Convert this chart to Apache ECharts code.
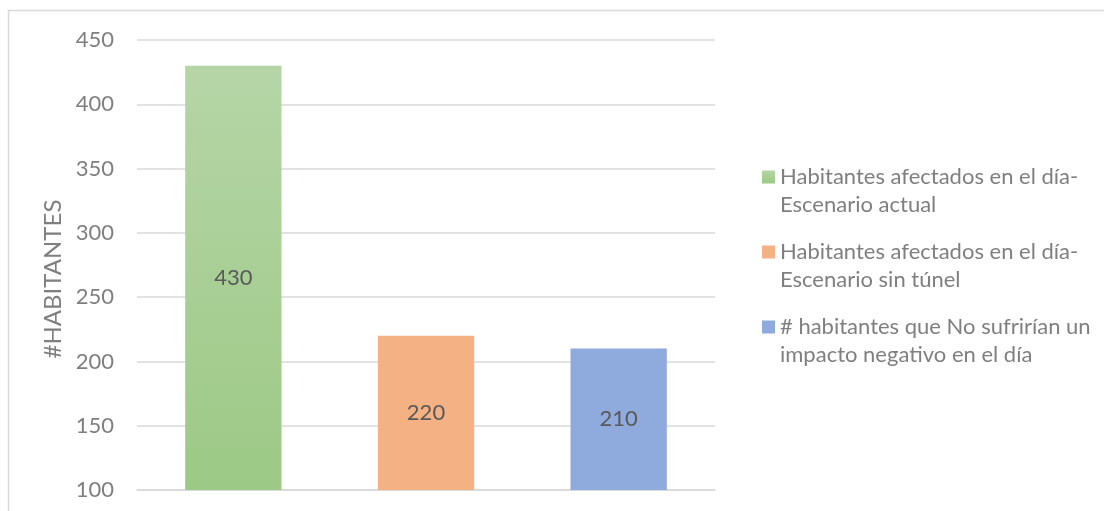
<!DOCTYPE html>
<html>
<head>
<meta charset="utf-8">
<script src="https://cdn.jsdelivr.net/npm/echarts@6/dist/echarts.min.js"></script>
<style>
  html, body { margin: 0; padding: 0; background: #fff; }
  #chart { width: 1104px; height: 511px; }
</style>
</head>
<body>
<div id="chart"></div>
<script>
// Daily affected inhabitants per scenario
const categories = ['Escenario actual', 'Escenario sin túnel', 'Sin impacto'];
const seriesNames = [
  'Habitantes afectados en el día-\nEscenario actual',
  'Habitantes afectados en el día-\nEscenario sin túnel',
  '# habitantes que No sufrirían un\nimpacto negativo en el día'
];
const values = [430, 220, 210];
const yTicks = { min: 100, max: 450, interval: 50 };
const axisTitle = '#HABITANTES';

const FONT = 'Lato, "Open Sans", "Noto Sans", sans-serif';
const TEXT_GREY = '#7f7f7f';
const colors = [
  new echarts.graphic.LinearGradient(0, 0, 0, 1, [
    { offset: 0, color: '#b5d5a6' },
    { offset: 1, color: '#9cc985' }
  ]),
  '#f4b183',
  '#8faadc'
];
const legendColors = ['#a9d18e', '#f4b183', '#8faadc'];

const series = seriesNames.map((name, i) => ({
  name: name,
  type: 'bar',
  stack: 'all',
  barWidth: '50%',
  color: legendColors[i],
  itemStyle: { color: colors[i] },
  label: {
    show: true,
    position: 'inside',
    color: '#595959',
    fontSize: 22,
    fontFamily: FONT
  },
  data: categories.map((c, j) => (j === i ? values[i] : null))
}));

const chart = echarts.init(document.getElementById('chart'), null, { renderer: 'canvas' });
chart.setOption({
  animation: false,
  backgroundColor: '#fff',
  grid: { left: 137, right: 389, top: 40, bottom: 21 },
  xAxis: {
    type: 'category',
    data: categories,
    axisLine: { show: true, lineStyle: { color: '#d9d9d9', width: 1.5 } },
    axisTick: { show: false },
    axisLabel: { show: false }
  },
  yAxis: {
    type: 'value',
    min: yTicks.min,
    max: yTicks.max,
    interval: yTicks.interval,
    name: axisTitle,
    nameLocation: 'middle',
    nameGap: 57,
    nameTextStyle: {
      color: TEXT_GREY,
      fontSize: 24,
      fontFamily: FONT,
      padding: [0, 28, 0, 0]
    },
    axisLine: { show: false },
    axisTick: { show: false },
    axisLabel: { color: TEXT_GREY, fontSize: 22, fontFamily: FONT, margin: 23 },
    splitLine: { lineStyle: { color: '#d9d9d9', width: 1.5 } }
  },
  legend: {
    orient: 'vertical',
    left: 757,
    top: 130,
    itemWidth: 13,
    itemHeight: 13,
    itemGap: -9,
    icon: 'rect',
    data: seriesNames,
    // leading blank line keeps the marker level with the first text line
    formatter: name => '\n' + name,
    textStyle: {
      color: TEXT_GREY,
      fontSize: 22,
      fontFamily: FONT,
      lineHeight: 28
    }
  },
  graphic: [{
    type: 'rect',
    shape: { x: 8.5, y: 10.5, width: 1200, height: 600 },
    style: { fill: null, stroke: '#d9d9d9', lineWidth: 1.5 },
    silent: true
  }],
  series: series
});
</script>
</body>
</html>
